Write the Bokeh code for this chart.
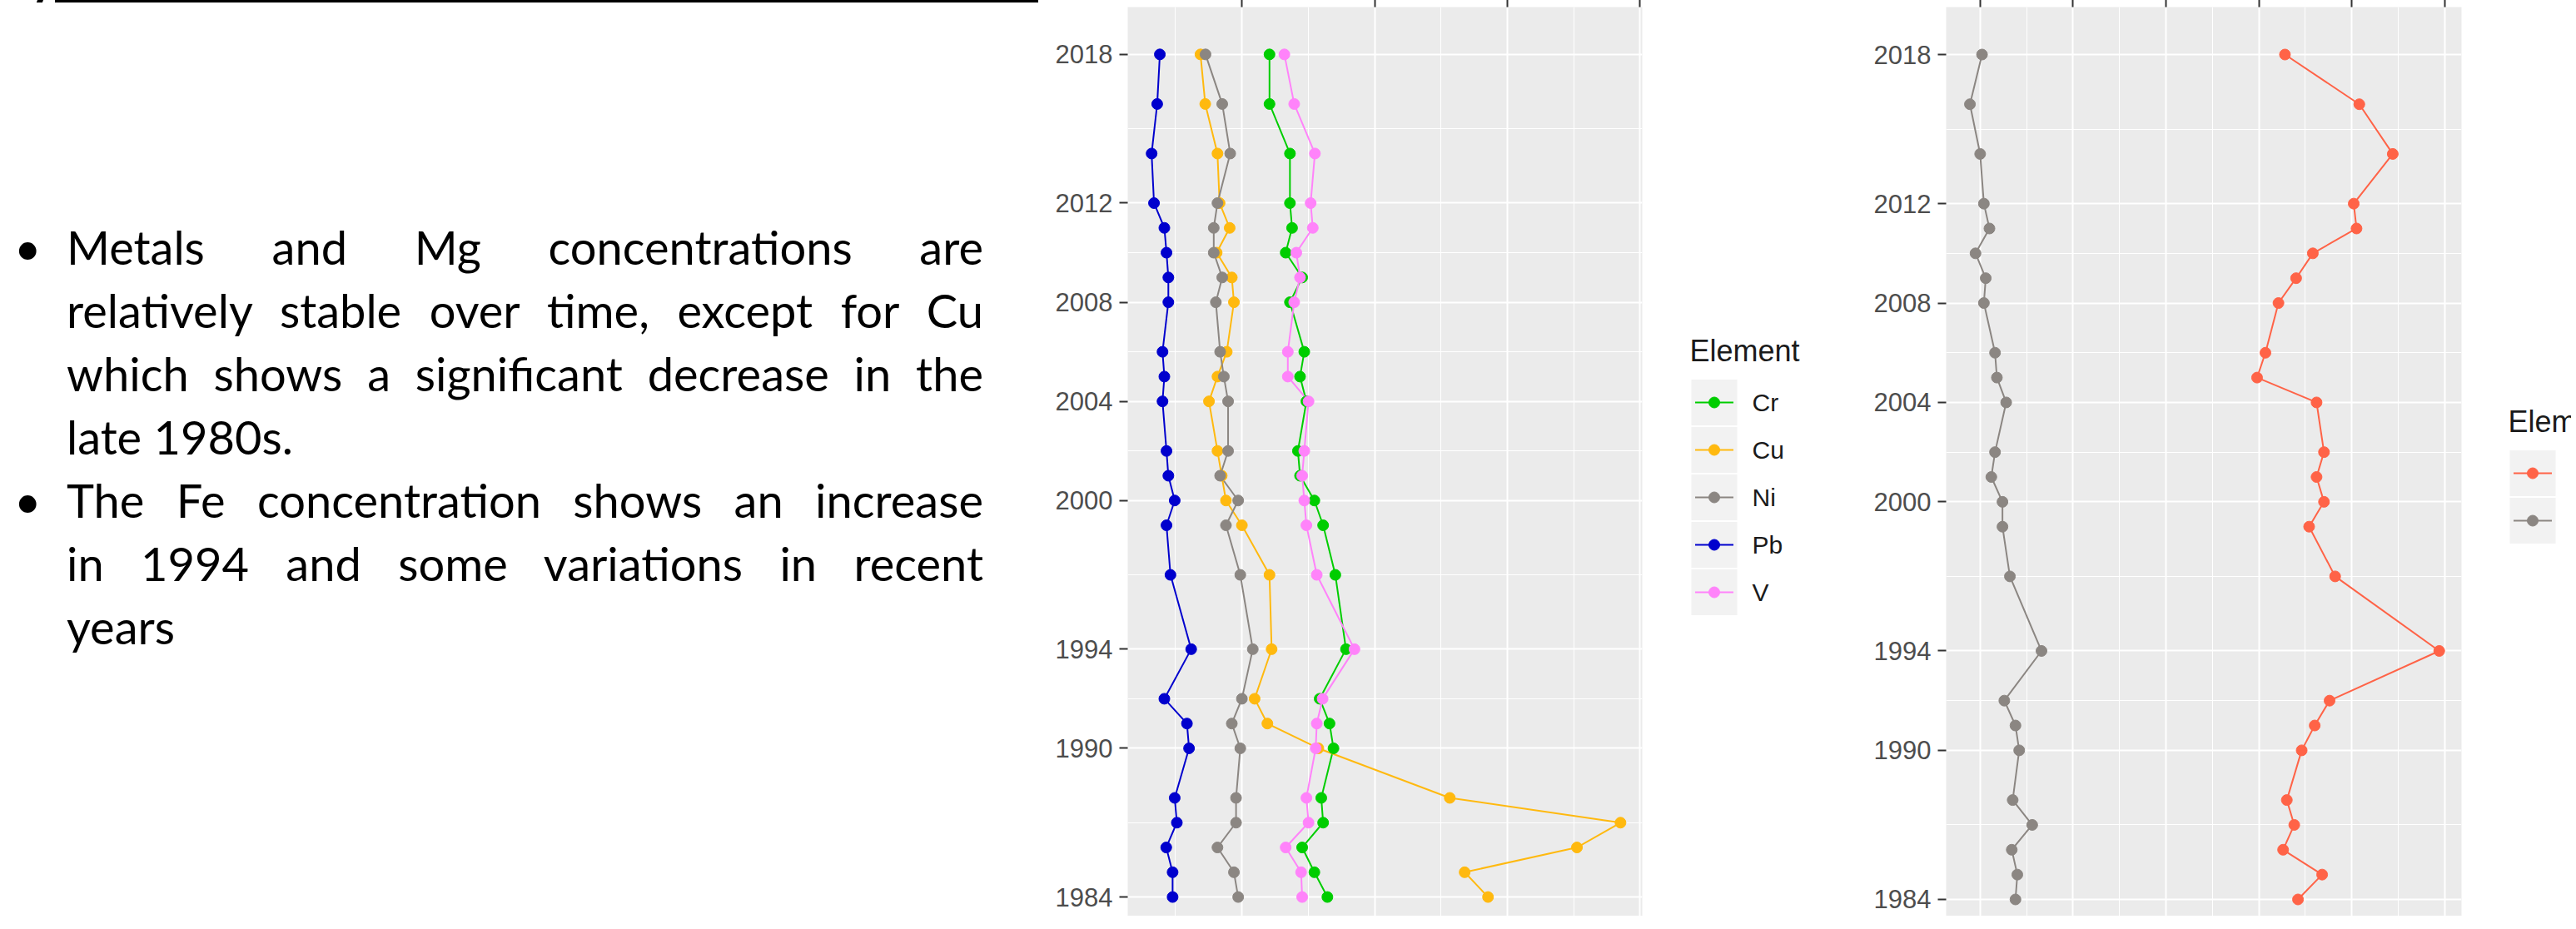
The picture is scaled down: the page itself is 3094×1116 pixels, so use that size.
from bokeh.plotting import figure
from bokeh.models import Range1d, FixedTicker, Div
from bokeh.layouts import row
from bokeh.embed import file_html
from bokeh.resources import INLINE
from bokeh.core.properties import value

# ---------------- data ----------------
YEARS = [2018, 2016, 2014, 2012, 2011, 2010, 2009, 2008, 2006, 2005, 2004, 2002,
         2001, 2000, 1999, 1997, 1994, 1992, 1991, 1990, 1988, 1987, 1986, 1985, 1984]

CR = [60.4, 60.4, 68.1, 68.1, 68.9, 66.5, 72.7, 68.1, 73.5, 71.9, 74.3, 71.1,
      71.9, 77.3, 80.6, 85.2, 89.2, 79.3, 83.0, 84.5, 79.9, 80.6, 72.7, 77.3, 82.2]
CU = [34.4, 36.2, 40.8, 41.6, 45.4, 40.5, 46.2, 47.0, 44.3, 40.8, 37.6, 40.8,
      42.4, 44.0, 50.0, 60.4, 61.2, 54.8, 59.6, 78.8, 128.3, 192.6, 176.2, 133.9, 142.7]
NI = [36.3, 42.6, 45.6, 40.8, 39.4, 39.4, 42.6, 40.2, 41.8, 43.2, 44.8, 44.8,
      41.8, 48.6, 44.0, 49.4, 54.1, 50.0, 46.2, 49.4, 47.8, 47.8, 40.8, 47.0, 48.6]
PB = [19.1, 18.1, 16.0, 16.9, 20.8, 21.6, 22.3, 22.3, 20.1, 20.8, 20.1, 21.6,
      22.3, 24.7, 21.6, 23.1, 30.9, 20.8, 29.3, 30.1, 24.7, 25.5, 21.5, 23.9, 23.9]
V = [66.0, 69.7, 77.5, 75.9, 76.7, 70.5, 71.9, 69.7, 67.3, 67.3, 75.1, 73.5,
     72.7, 73.5, 74.3, 78.2, 92.4, 80.4, 78.2, 77.8, 74.3, 75.1, 66.5, 72.3, 72.7]

FE = [26.4, 30.4, 32.2, 30.1, 30.25, 27.9, 27.0, 26.05, 25.35, 24.9, 28.1, 28.5,
      28.1, 28.5, 27.7, 29.1, 34.7, 28.8, 28.0, 27.3, 26.5, 26.9, 26.3, 28.4, 27.1]
MG = [10.1, 9.45, 10.0, 10.2, 10.5, 9.75, 10.3, 10.2, 10.8, 10.9, 11.4, 10.8,
      10.6, 11.2, 11.2, 11.6, 13.3, 11.3, 11.9, 12.1, 11.75, 12.8, 11.7, 12.0, 11.9]

METALS = ["Cr", "Cu", "Ni", "Pb", "V"]
METAL_VALUES = [CR, CU, NI, PB, V]
METAL_COLORS = ["#00CD00", "#FFB90F", "#8B8682", "#0000CD", "#FF83FA"]

MAJORS = ["Fe", "Mg"]
MAJOR_VALUES = [FE, MG]
MAJOR_COLORS = ["#FF6347", "#8B8682"]

YEAR_TICKS = [1984, 1990, 1994, 2000, 2004, 2008, 2012, 2018]
YEAR_MINOR = [1987, 1992, 1997, 2002, 2006, 2010, 2015]
METAL_TICKS = [50, 100, 150, 200]
METAL_MINOR = [25, 75, 125, 175]
MAJOR_TICKS = [10, 15, 20, 25, 30, 35]
MAJOR_MINOR = [12.5, 17.5, 22.5, 27.5, 32.5]

LEGEND_TITLE = "Element"

BULLETS = [
    ["Metals and Mg concentrations are",
     "relatively stable over time, except for Cu",
     "which shows a significant decrease in the",
     "late 1980s."],
    ["The Fe concentration shows an increase",
     "in 1994 and some variations in recent",
     "years"],
]

FONT = "Liberation Sans"
SHIFT = 52            # the row is pulled up so the top tick labels are cut, as in the slide
H = 1100 + SHIFT
OFF = SHIFT - 8       # page y -> local y
TOP = 60              # top border of every figure in the row (frames are aligned)


def panel(width, xr, yr, xt, xm, left_border, right_border):
    p = figure(width=width, height=H, x_range=Range1d(*xr), y_range=Range1d(*yr),
               x_axis_location="above", output_backend="svg", toolbar_location=None,
               min_border_left=left_border, min_border_right=right_border,
               min_border_top=TOP, min_border_bottom=0)
    p.background_fill_color = "#EBEBEB"
    p.border_fill_color = "white"
    p.outline_line_color = None
    p.xaxis.ticker = FixedTicker(ticks=xt, minor_ticks=xm)
    p.yaxis.ticker = FixedTicker(ticks=YEAR_TICKS, minor_ticks=YEAR_MINOR)
    for g in (p.xgrid, p.ygrid):
        g.grid_line_color = "white"
        g.grid_line_width = 2
        g.minor_grid_line_color = "white"
        g.minor_grid_line_width = 1
    for ax in (p.xaxis, p.yaxis):
        ax.axis_line_color = None
        ax.minor_tick_line_color = None
        ax.major_tick_line_color = "#333333"
        ax.major_tick_line_width = 2
        ax.major_tick_in = 0
        ax.major_label_text_font = FONT
        ax.major_label_text_color = "#4D4D4D"
        ax.major_label_text_font_size = "31px"
    p.xaxis.major_tick_out = 9
    p.xaxis.major_label_standoff = 4
    p.yaxis.major_tick_out = 10
    p.yaxis.major_label_standoff = 8
    return p


def draw(p, series, colors):
    for vals, c in zip(series, colors):
        p.line(vals, YEARS, line_color=c, line_width=2)
    for vals, c in zip(series, colors):
        p.scatter(vals, YEARS, size=13, fill_color=c, line_color=c)


def legend_fig(width, key_left, title_y, first_y, names, colors):
    # frame covers local y TOP..H, so data y == local canvas pixel y
    lf = figure(width=width, height=H, x_range=Range1d(0, width), y_range=Range1d(H, TOP),
                output_backend="svg", toolbar_location=None,
                min_border_left=0, min_border_right=0, min_border_top=TOP, min_border_bottom=0,
                x_axis_type=None, y_axis_type=None)
    lf.outline_line_color = None
    lf.background_fill_color = "white"
    lf.border_fill_color = "white"
    n = len(names)
    cx = key_left + 27.5
    ys = [first_y + 57 * i for i in range(n)]
    lf.rect(x=[cx] * n, y=ys, width=55, height=55, fill_color="#F2F2F2", line_color=None)
    lf.segment(x0=[cx - 23] * n, x1=[cx + 23] * n, y0=ys, y1=ys, line_color=colors, line_width=2)
    lf.scatter(x=[cx] * n, y=ys, size=13, fill_color=colors, line_color=colors)
    lf.text(x=[key_left + 73] * n, y=ys, text=names, text_baseline="middle",
            text_font=value(FONT), text_font_size="30px", text_color="#1A1A1A")
    lf.text(x=[key_left - 2], y=[title_y], text=[LEGEND_TITLE], text_baseline="middle",
            text_font=value(FONT), text_font_size="36px", text_color="#1A1A1A")
    return lf


# ---------------- text block ----------------
LINE_H = 76
centres = [[300, 376, 452, 528], [604, 680, 756]]
parts = ['<div style="position:relative;width:1242px;height:%dpx;'
         'font-family:Lato,\'Open Sans\',sans-serif;font-size:56px;color:#000;">' % H,
         '<div style="position:absolute;left:61px;top:%dpx;width:1181px;height:5px;background:#000;"></div>' % (1 + OFF),
         '<div style="position:absolute;left:40px;top:%dpx;width:7px;height:6px;background:#000;'
         'transform:skewX(-20deg);"></div>' % OFF]
for para, cs in zip(BULLETS, centres):
    parts.append('<div style="position:absolute;left:12px;top:%dpx;line-height:%dpx;">&#8226;</div>'
                 % (cs[0] - LINE_H // 2 + OFF, LINE_H))
    for i, (ln, c) in enumerate(zip(para, cs)):
        last = (i == len(para) - 1)
        align = "left" if last else "justify"
        parts.append('<div style="position:absolute;left:75px;top:%dpx;width:1101px;line-height:%dpx;'
                     'text-align:%s;text-align-last:%s;">%s</div>'
                     % (c - LINE_H // 2 + OFF, LINE_H, align, align, ln))
parts.append('</div>')
text_div = Div(text="".join(parts), width=1242, height=H)

# ---------------- panels (frames span page y 16..1108) ----------------
p1 = panel(730, (7.0, 200.8), (1983.23, 2019.91), METAL_TICKS, METAL_MINOR, 102, 10)
draw(p1, METAL_VALUES, METAL_COLORS)
l1 = legend_fig(250, 49, 429 + OFF, 491 + OFF, METALS, METAL_COLORS)

p2 = panel(730, (8.17, 35.9), (1983.33, 2019.91), MAJOR_TICKS, MAJOR_MINOR, 105, 6)
draw(p2, MAJOR_VALUES, MAJOR_COLORS)
l2 = legend_fig(126, 52, 514 + OFF, 576 + OFF, MAJORS, MAJOR_COLORS)

layout = row(text_div, p1, l1, p2, l2, margin=(-SHIFT, 0, 0, 0))
open("out.html", "w").write(file_html(layout, INLINE))
